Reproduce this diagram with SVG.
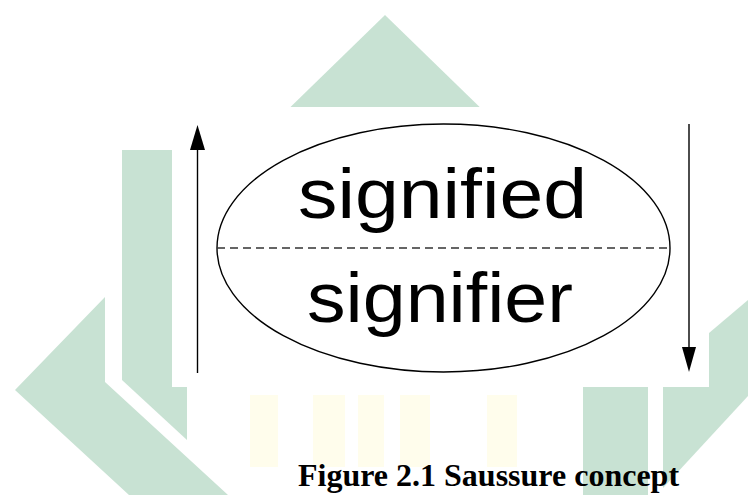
<svg xmlns="http://www.w3.org/2000/svg" width="748" height="495" viewBox="0 0 748 495">
  <defs>
    <style>
      .wm { fill: #c8e2d3; }
      .wy { fill: #fffdec; }
      .line { stroke: #000; stroke-width: 1.4; fill: none; }
      .head { fill: #000; }
      .big { font-family: "Liberation Sans", Arial, sans-serif; font-size: 70px; fill: #000; }
      .cap { font-family: "Liberation Serif", "Times New Roman", serif; font-size: 32px; font-weight: bold; fill: #000; }
    </style>
  </defs>
  <rect x="0" y="0" width="748" height="495" fill="#ffffff"/>
  <g id="watermark">
    <polygon class="wm" points="385,15 200,195 570,195"/>
    <polygon class="wm" points="122,150 187,150 187,440 122,380"/>
    <polygon class="wm" points="15,390 105,297 105,382 228,495 129,495"/>
    <rect class="wm" x="583" y="300" width="65" height="195"/>
    <polygon class="wm" points="663,372 748,300 748,396 663,488"/>
    <rect class="wy" x="250" y="395" width="28" height="72"/>
    <rect class="wy" x="313" y="395" width="32" height="72"/>
    <rect class="wy" x="358" y="395" width="26" height="72"/>
    <rect class="wy" x="400" y="395" width="30" height="72"/>
    <rect class="wy" x="487" y="395" width="30" height="72"/>
  </g>
  <rect id="panel" x="172" y="107" width="537" height="280" fill="#ffffff"/>
  <g id="sign">
    <ellipse class="line" cx="443.5" cy="248" rx="226.5" ry="124"/>
    <line x1="217" y1="248" x2="670" y2="248" stroke="#333" stroke-width="1.4" stroke-dasharray="8,5"/>
  </g>
  <g id="signified">
    <text class="big" x="298" y="218" textLength="289" lengthAdjust="spacingAndGlyphs">signified</text>
  </g>
  <g id="signifier">
    <text class="big" x="307" y="322" textLength="266" lengthAdjust="spacingAndGlyphs">signifier</text>
  </g>
  <g id="connectors">
    <line class="line" x1="197.5" y1="373" x2="197.5" y2="145"/>
    <polygon class="head" points="197.5,125 190,150 205,150"/>
    <line class="line" x1="689" y1="124" x2="689" y2="352"/>
    <polygon class="head" points="689,372 682,347 696,347"/>
  </g>
  <g id="caption">
    <text class="cap" x="298" y="486">Figure 2.1 Saussure concept</text>
  </g>
</svg>
